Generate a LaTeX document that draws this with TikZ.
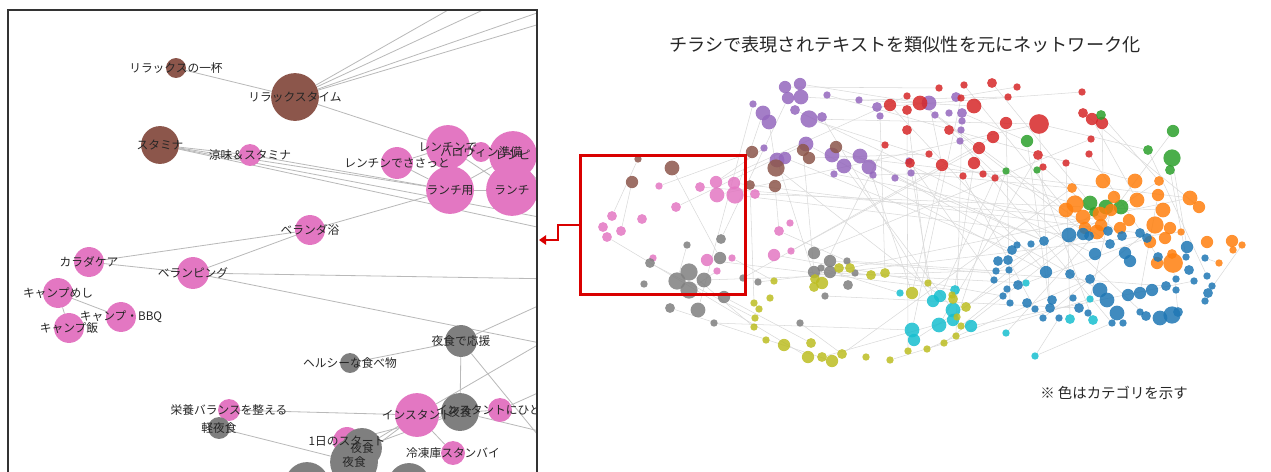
\documentclass[tikz,border=0pt]{standalone}
\usepackage{fontspec}
\setmainfont{Noto Sans CJK JP}
\usetikzlibrary{arrows.meta,backgrounds}
\definecolor{tabblue}{HTML}{1F77B4}
\definecolor{taborange}{HTML}{FF7F0E}
\definecolor{tabgreen}{HTML}{2CA02C}
\definecolor{tabred}{HTML}{D62728}
\definecolor{tabpurple}{HTML}{9467BD}
\definecolor{tabbrown}{HTML}{8C564B}
\definecolor{tabpink}{HTML}{E377C2}
\definecolor{tabgray}{HTML}{7F7F7F}
\definecolor{tabolive}{HTML}{BCBD22}
\definecolor{tabcyan}{HTML}{17BECF}
\begin{document}
\begin{tikzpicture}[
        x=0.03cm, y=-0.03cm,
        bubble/.style={circle, fill=#1, draw=none, inner sep=0pt}, % no com cor da categoria
        mini/.style={bubble=#1, fill opacity=0.85}, % no pequeno da visao geral
        rpx/.style={minimum size=#1*1.7pt}, % raio em pixels
        rmini/.style={minimum size=#1*2.1pt}, % raio na visao geral
        lbltext/.style={font=\fontsize{10}{12}\selectfont, text=black!85, inner sep=0pt},
        link/.style={draw=gray!55, line width=0.7pt},
        faint/.style={draw=gray!30, line width=0.45pt},
        panelframe/.style={draw=black!80, line width=1.1pt},
        zoombox/.style={draw=red!85!black, line width=2.4pt, minimum width=141pt, minimum height=119pt, inner sep=0pt},
        redarrow/.style={draw=red!85!black, line width=1.6pt, -{Triangle[length=6pt,width=8pt]}}
    ]
    \useasboundingbox (0,0) rectangle (1271,471);

    % painel da esquerda: nos
    \begin{scope}
    \clip (8,10) rectangle (537,480);
    \foreach \n/\x/\y/\r/\c in {
        rlx1/176/68/10/tabbrown, rlxt/295/97/24/tabbrown, stam/160/145/19/tabbrown,
        ryomi/250/155/11/tabpink, rensa/397/163/16/tabpink, rende/448/147/22/tabpink,
        hallo/481/152/10/tabpink, prep/513/155/24/tabpink, lunchy/450/190/24/tabpink, lunch/512/190/26/tabpink,
        veranda/310/230/15/tabpink, karada/89/262/15/tabpink, verping/193/273/16/tabpink,
        campm/58/293/15/tabpink, campb/121/317/15/tabpink, camph/69/328/15/tabpink,
        yasho/461/341/16/tabgray, healthy/350/363/10/tabgray, eiyo/229/410/11/tabpink, keiya/219/428/11/tabgray,
        insta/417/415/22/tabpink, ynite/460/412/19/tabgray, hitoku/500/410/12/tabpink, reito/453/453/12/tabpink,
        ichi/347/441/14/tabpink, yash1/362/448/20/tabgray, yash2/354/462/24/tabgray,
        low1/307/484/22/tabgray, low2/409/484/21/tabgray}
        \node[bubble=\c, rpx=\r] (\n) at (\x,\y) {};
    \foreach \n/\t in {
        rlx1/リラックスの一杯, rlxt/リラックスタイム, stam/スタミナ, ryomi/涼味＆スタミナ,
        rensa/レンチンでささっと, rende/レンチンで, hallo/ハロウィン準備, prep/レシピ,
        lunchy/ランチ用, lunch/ランチ, veranda/ベランダ浴, karada/カラダケア, verping/ベランピング,
        campm/キャンプめし, campb/キャンプ・BBQ, camph/キャンプ飯, yasho/夜食で応援,
        healthy/ヘルシーな食べ物, eiyo/栄養バランスを整える, keiya/軽夜食, insta/インスタント,
        ynite/夜食, hitoku/インスタントにひと工夫, reito/冷凍庫スタンバイ, ichi/1日のスタート,
        yash1/夜食, yash2/夜食}
        \node[lbltext] (\n-t) at (\n) {\t};
    \end{scope}

    % painel da esquerda: arestas
    \begin{scope}[on background layer]
    \begin{scope}
    \clip (8,10) rectangle (537,480);
    \coordinate (oA) at (471,-3);  \coordinate (oB) at (511,-3);
    \coordinate (oC) at (560,5);   \coordinate (oD) at (560,18);
    \coordinate (oE) at (560,221); \coordinate (oF) at (560,232);
    \coordinate (oG) at (560,279); \coordinate (oH) at (560,347);
    \coordinate (oI) at (560,296); \coordinate (oJ) at (560,332);
    \coordinate (oK) at (560,383); \coordinate (oL) at (560,436);
    \coordinate (oM) at (560,462); \coordinate (oN) at (560,172);
    \coordinate (oP) at (560,203);
    \foreach \a/\b in {rlx1/rlxt, rlxt/oA, rlxt/oB, rlxt/oC, rlxt/oD, rlxt/rende,
        stam/ryomi, stam/lunchy, stam/oE, stam/oF, ryomi/lunchy, rensa/rende, rensa/lunchy,
        rende/lunch, hallo/prep, lunchy/lunch, lunch/oN, prep/oP, lunchy/prep,
        veranda/lunchy, veranda/karada, veranda/verping, karada/verping, verping/oG, verping/oH,
        campm/campb, campm/camph, healthy/yasho, yasho/ynite, yasho/oI, yasho/oM,
        eiyo/insta, keiya/yash2, insta/reito, insta/oJ, insta/yash1, insta/yash2,
        ynite/yash1, ynite/ichi, ynite/oL, hitoku/oK, insta/hitoku}
        \draw[link] (\a) -- (\b);
    \end{scope}
    \end{scope}
    \draw[panelframe] (8,475) -- (8,10) -- (537,10) -- (537,475);

    % titulo e nota
    \node[font=\fontsize{15.5}{18}\selectfont, text=black!85] (title) at (905,45) {チラシで表現されテキストを類似性を元にネットワーク化};
    \node[font=\fontsize{12.3}{15}\selectfont, text=black!85] (note) at (1114,393) {※ 色はカテゴリを示す};

    % visao geral: nos por categoria
    \foreach \x/\y/\r [count=\i] in {785/87/5, 800/84/5, 788/98/5, 801/97/6, 827/95/3, 753/104/3, 795/110/4,
        763/113/6, 769/122/6, 809/119/7, 822/117/4, 859/100/3, 877/107/4, 880/116/3, 764/148/3, 806/144/6,
        777/160/6, 785/158/5, 832/155/6, 860/156/6, 869/167/6, 844/166/6, 834/174/3, 873/175/3, 895/178/3,
        909/161/3, 911/173/3, 929/103/6, 956/97/4, 962/113/4, 962/121/3, 949/113/3, 935/115/3, 961/130/3, 960/141/3}
        \node[mini=tabpurple, rmini=\r] (pu\i) at (\x,\y) {};
    \foreach \x/\y/\r [count=\i] in {752/152/5, 803/150/5, 809/158/5, 836/147/5, 776/168/7, 775/186/5,
        750/185/4, 638/159/3, 672/168/6, 632/182/5}
        \node[mini=tabbrown, rmini=\r] (br\i) at (\x,\y) {};
    \foreach \x/\y/\r [count=\i] in {659/186/3, 700/187/4, 716/182/5, 734/183/5, 717/195/6, 735/195/7,
        755/194/4, 676/207/4, 612/216/4, 642/219/4, 603/227/4, 621/231/4, 607/237/4, 779/231/4, 790/223/3,
        707/260/5, 732/258/3, 653/258/3, 717/271/3, 774/255/5, 791/251/3}
        \node[mini=tabpink, rmini=\r] (pk\i) at (\x,\y) {};
    \foreach \x/\y/\r [count=\i] in {721/239/4, 687/245/3, 720/258/5, 650/263/4, 689/272/7, 677/281/7,
        704/280/6, 689/290/7, 644/284/3, 743/278/3, 724/297/5, 670/308/4, 698/310/6, 714/323/3, 758/282/3,
        814/272/5, 814/253/5, 830/261/5, 830/272/5, 821/268/3, 847/261/3, 855/273/3, 848/285/4, 825/296/3, 800/323/3}
        \node[mini=tabgray, rmini=\r] (gy\i) at (\x,\y) {};
    \foreach \x/\y/\r [count=\i] in {890/105/5, 920/103/6, 907/96/3, 907/110/4, 907/130/4, 885/145/3,
        910/163/4, 939/88/3, 964/85/3, 992/83/4, 1017/87/3, 961/98/3, 1008/97/3, 974/106/6, 949/130/4,
        1006/123/5, 993/137/5, 979/148/5, 1039/124/8, 1082/92/3, 1083/113/4, 1092/119/5, 1102/123/5,
        1091/139/3, 1089/154/3, 929/154/3, 942/165/5, 974/163/5, 1038/155/4, 1043/167/3, 1066/163/3,
        983/174/3, 995/178/3, 963/176/3}
        \node[mini=tabred, rmini=\r] (re\i) at (\x,\y) {};
    \foreach \x/\y/\r [count=\i] in {1027/141/5, 1101/115/4, 1173/131/5, 1148/150/4, 1172/158/7,
        1170/170/4, 1006/171/3, 1037/170/3, 1090/203/6, 1106/207/6, 1121/207/6, 1094/212/4}
        \node[mini=tabgreen, rmini=\r] (gr\i) at (\x,\y) {};
    \foreach \x/\y/\r [count=\i] in {1103/181/6, 1135/181/6, 1159/181/4, 1072/188/4, 1075/204/7,
        1066/210/6, 1083/217/6, 1100/214/6, 1111/210/5, 1114/197/5, 1137/200/6, 1158/195/5, 1163/210/6,
        1155/225/7, 1170/228/5, 1190/198/6, 1199/207/5, 1129/220/5, 1101/225/5, 1097/232/6, 1150/242/5,
        1181/232/3, 1207/242/5, 1232/241/5, 1242/245/3, 1233/250/3, 1172/254/4, 1173/263/8, 1157/263/5,
        1219/263/3, 1165/238/5, 1085/228/5, 1120/228/5}
        \node[mini=taborange, rmini=\r] (or\i) at (\x,\y) {};
    \foreach \x/\y/\r [count=\i] in {1069/235/6, 1083/234/5, 1089/236/4, 1108/231/4, 1122/236/4,
        1140/233/4, 1147/238/4, 1110/244/4, 1125/253/5, 1095/254/5, 1130/261/5, 1044/241/4, 1031/244/3,
        1017/245/3, 1012/250/4, 1008/260/4, 998/261/4, 996/271/3, 1009/270/3, 1046/272/5, 1070/274/4,
        1090/279/4, 1018/285/4, 994/280/3, 1007/289/3, 1003/296/3, 1010/303/3, 1027/303/4, 1035/309/3,
        1050/308/4, 1052/300/4, 1073/298/3, 1079/308/4, 1088/313/3, 1043/318/3, 1059/318/3, 1100/290/6,
        1107/300/6, 1117/313/6, 1112/323/3, 1123/323/3, 1128/295/5, 1140/293/5, 1152/290/5, 1166/286/4,
        1176/290/3, 1178/312/4, 1172/315/7, 1160/318/6, 1146/316/4, 1140/312/3, 1186/257/3, 1176/279/3,
        1189/270/4, 1194/281/3, 1207/276/3, 1212/286/3, 1208/293/4, 1205/301/3, 1187/247/5, 1158/257/4, 1205/258/3}
        \node[mini=tabblue, rmini=\r] (bl\i) at (\x,\y) {};
    \foreach \x/\y/\r [count=\i] in {940/296/5, 955/290/4, 933/301/5, 953/310/6, 953/320/5, 939/325/6,
        971/326/5, 1006/333/3, 1026/283/3, 1093/320/4, 1070/319/4, 1090/299/3, 1035/356/3, 912/330/6,
        914/340/5, 900/293/3}
        \node[mini=tabcyan, rmini=\r] (cy\i) at (\x,\y) {};
    \foreach \x/\y/\r [count=\i] in {774/281/3, 770/298/3, 754/303/3, 759/309/3, 755/318/3, 754/327/3,
        766/340/3, 784/345/5, 811/343/4, 815/279/4, 822/283/5, 814/287/4, 839/268/4, 850/268/4, 871/275/4,
        885/273/4, 808/357/5, 822/357/4, 832/361/5, 842/354/4, 866/357/3, 890/360/3, 908/351/3, 912/293/5,
        928/283/3, 952/295/3, 953/299/4, 966/307/4, 957/317/3, 961/326/3, 956/336/3, 944/343/3, 927/349/3}
        \node[mini=tabolive, rmini=\r] (ol\i) at (\x,\y) {};

    % visao geral: arestas
    \begin{scope}[on background layer]
    \foreach \a/\b in {pu1/re8, pu4/re14, pu6/gy13, pu8/pk6, pu9/br5, pu10/or5, pu10/re19, pu12/re13,
        pu16/bl20, pu17/ol10, pu19/or16, pu20/bl37, pu21/ol24, pu22/cy4, pu25/bl12, pu27/or4, pu28/re27,
        pu30/gr1, pu35/bl40, br1/pk1, br2/gy16, br4/bl12, br5/cy1, br6/pk14, br7/ol3, pk5/re19, pk6/bl1,
        pk7/or13, pk8/pu16, pk13/ol17, pk14/gy21, pk20/bl26, pk19/gy8, gy2/gy6, gy5/ol6, gy11/ol9,
        gy14/cy14, gy16/cy9, gy18/bl45, gy19/or16, gy22/ol15, gy25/ol20, re1/bl20, re5/ol23, re6/ol12,
        re12/cy14, re15/bl50, re19/gr4, re19/bl30, re22/or11, re23/or1, re27/ol24, re29/cy6, re30/bl5,
        re33/cy1, gr1/bl30, gr3/or20, gr5/bl60, gr6/bl52, gr8/cy10, gr2/or3, or4/ol20, or9/cy12,
        or14/bl35, or20/cy8, or25/bl58, or28/bl47, bl12/ol28, bl18/gy21, bl25/ol30, bl40/cy13,
        bl55/cy7, cy2/ol26, cy5/ol18, cy13/bl36,
        pu2/re2, pu3/gy1, pu5/or2, pu7/bl10, pu11/cy3, pu13/re20, pu14/ol16, pu15/pk3, pu18/bl15,
        pu23/or19, pu24/gr7, pu26/bl24, pu29/re11, pu31/ol31, pu33/bl3, br3/re26, br8/pk9, br9/gy3,
        br10/pk12, pk2/or7, pk3/re3, pk4/bl6, pk16/cy2, pk17/ol1, pk21/re18, gy4/ol5, gy7/bl19,
        gy10/re17, gy12/ol19, gy15/or22, gy17/re24, gy20/cy16, gy24/bl33, re2/bl8, re4/ol25, re7/cy3,
        re9/or6, re10/gr9, re16/bl27, re21/or17, re25/bl61, re28/ol27, re31/cy11, re34/bl29, gr4/bl56,
        gr7/ol29, gr10/bl18, or3/cy15, or12/bl43, or30/bl62, bl2/ol32, bl7/cy9, bl22/ol33, cy12/ol22}
        \draw[faint] (\a) -- (\b);
    \end{scope}

    % caixa de zoom e seta
    \node[zoombox] (zoom) at (663,225) {};
    \coordinate (target) at (539,240);
    \draw[redarrow] (zoom.west) -- ++(-21,0) |- (target);
\end{tikzpicture}
\end{document}
